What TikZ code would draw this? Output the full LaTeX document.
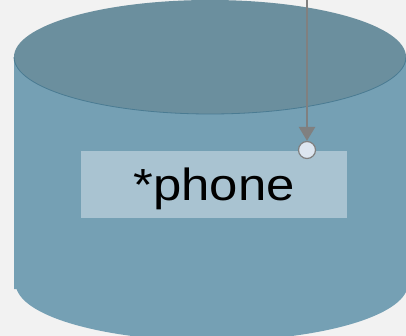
\documentclass[tikz,border=0pt]{standalone}
\usepackage{fontspec}
\setmainfont{Liberation Sans}
\usetikzlibrary{arrows.meta}
\definecolor{bgc}{HTML}{F2F2F2}
\definecolor{topc}{HTML}{6B8F9E}
\definecolor{bodyc}{HTML}{75A0B4}
\definecolor{rimc}{HTML}{4A7B92}
\definecolor{labc}{HTML}{A9C3D1}
\definecolor{linkc}{HTML}{808080}
\definecolor{portc}{HTML}{DDE6F0}
\begin{document}
\begin{tikzpicture}[x=1pt,y=-1pt,
  labelbox/.style={fill=labc,minimum width=266pt,inner sep=0pt,
    text height=49.5pt,text depth=17.5pt,
    font=\fontsize{45}{45}\selectfont},
  port/.style={circle,fill=portc,draw=linkc,line width=1.2pt,minimum size=17pt,inner sep=0pt},
  link/.style={draw=linkc,line width=2.6pt,-{Triangle[length=14pt,width=16pt]}}]
  \fill[bgc] (0,0) rectangle (406,336);
  \useasboundingbox (0,0) rectangle (406,336);
  % cylinder body
  \fill[bodyc] (14,57) -- (14,289) -- (17,289) -- (17,289.9)
    arc[start angle=-174,end angle=0,x radius=196,y radius=-57] -- (406,57) -- cycle;
  \fill[bodyc] (14,57) rectangle (406,280);
  \fill[bodyc] (210,280) ellipse[x radius=196,y radius=57];
  % top face
  \fill[topc] (210,57) ellipse[x radius=196,y radius=57];
  \draw[rimc,line width=0.8pt] (14,57) arc[start angle=180,end angle=0,x radius=196,y radius=57];
  % label
  \node[labelbox] (lab) at (214,184.5) {\scalebox{1.13}[1]{*phone}};
  \node[port] (p) at (307,150) {};
  \coordinate (src) at (307,0);
  \draw[link] (src) -- (p.north);
\end{tikzpicture}
\end{document}
